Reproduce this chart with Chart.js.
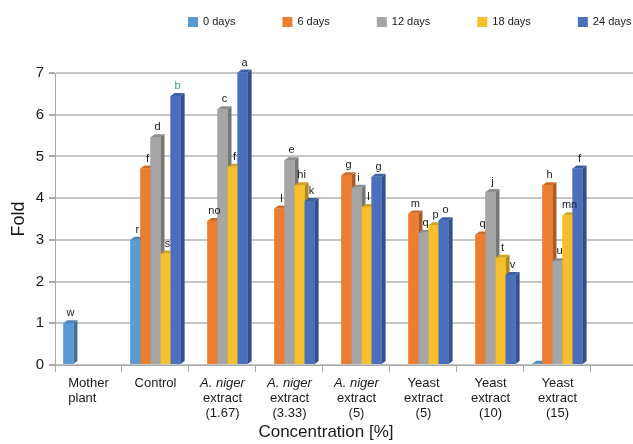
<!DOCTYPE html>
<html>
<head>
<meta charset="utf-8">
<style>
    html, body { margin: 0; padding: 0; background: #ffffff; }
    #wrap { position: relative; width: 633px; height: 444px; }
</style>
<script src="https://cdn.jsdelivr.net/npm/chart.js@4.4.1/dist/chart.umd.min.js"></script>
</head>
<body>
<div id="wrap"><canvas id="foldChart" width="633" height="444"></canvas></div>
<script>
// categories (one entry per group, lines of the axis label)
var categories = [
    ['Mother', 'plant'],
    ['Control'],
    ['A. niger', 'extract', '(1.67)'],
    ['A. niger', 'extract', '(3.33)'],
    ['A. niger', 'extract', '(5)'],
    ['Yeast', 'extract', '(5)'],
    ['Yeast', 'extract', '(10)'],
    ['Yeast', 'extract', '(15)']
];
var seriesNames = ['0 days', '6 days', '12 days', '18 days', '24 days'];

// fold values
var days0 = [1.0, 3.0, null, null, null, null, null, 0.03];
var days6 = [null, 4.71, 3.45, 3.75, 4.55, 3.63, 3.13, 4.31];
var days12 = [null, 5.46, 6.13, 4.91, 4.25, 3.17, 4.15, 2.49];
var days18 = [null, 2.67, 4.75, 4.31, 3.79, 3.35, 2.57, 3.59];
var days24 = [null, 6.45, 7.01, 3.93, 4.51, 3.47, 2.16, 4.71];

// significance letters above the bars
var letters0 = ['w', 'r', '', '', '', '', '', ''];
var letters6 = ['', 'f', 'no', 'l', 'g', 'm', 'q', 'h'];
var letters12 = ['', 'd', 'c', 'e', 'i', 'q', 'j', 'u'];
var letters18 = ['', 's', 'f', 'hi', 'l', 'p', 't', 'mn'];
var letters24 = ['', 'b', 'a', 'k', 'g', 'o', 'v', 'f'];

var yTicks = [0, 1, 2, 3, 4, 5, 6, 7];
var xTickEdges = [-0.5, 0.5, 1.5, 2.5, 3.5, 4.5, 5.5, 6.5, 7.5];

var seriesValues = [days0, days6, days12, days18, days24];
var seriesLetters = [letters0, letters6, letters12, letters18, letters24];
var seriesColors = ['#5b9bd5', '#ed7d31', '#a5a5a5', '#f5c02c', '#4a6fbd'];
var FONT = "'Liberation Sans', Arial, sans-serif";

function shade(hex, f) {
    var n = parseInt(hex.slice(1), 16);
    var r = Math.round(((n >> 16) & 255) * f);
    var g = Math.round(((n >> 8) & 255) * f);
    var b = Math.round((n & 255) * f);
    return 'rgb(' + r + ',' + g + ',' + b + ')';
}

var barDepth = {
    id: 'barDepth',
    afterDatasetsDraw: function (chart) {
        var ctx = chart.ctx;
        var dx = 4, dy = 3;
        ctx.save();
        for (var i = 0; i < categories.length; i++) {
            for (var d = 0; d < chart.data.datasets.length; d++) {
                var ds = chart.data.datasets[d];
                if (ds.data[i].y == null) continue;
                var p = chart.getDatasetMeta(d).data[i].getProps(['x', 'y', 'base', 'width'], true);
                var l = p.x - p.width / 2, r = p.x + p.width / 2;
                var t = Math.min(p.y, p.base), b = Math.max(p.y, p.base);
                ctx.fillStyle = shade(ds.backgroundColor, 0.72);
                ctx.beginPath();
                ctx.moveTo(r, t); ctx.lineTo(r + dx, t - dy); ctx.lineTo(r + dx, b - dy); ctx.lineTo(r, b);
                ctx.closePath(); ctx.fill();
                ctx.fillStyle = shade(ds.backgroundColor, 0.86);
                ctx.beginPath();
                ctx.moveTo(l, t); ctx.lineTo(l + dx, t - dy); ctx.lineTo(r + dx, t - dy); ctx.lineTo(r, t);
                ctx.closePath(); ctx.fill();
                ctx.fillStyle = ds.backgroundColor;
                ctx.fillRect(l, t, r - l, b - t);
            }
        }
        ctx.restore();
    }
};

var textLayer = {
    id: 'textLayer',
    afterDraw: function (chart) {
        var ctx = chart.ctx;
        var xs = chart.scales.x;
        var area = chart.chartArea;
        ctx.save();

        // letters over the bars
        ctx.font = '11px ' + FONT;
        ctx.textAlign = 'center';
        ctx.textBaseline = 'alphabetic';
        for (var d = 0; d < seriesLetters.length; d++) {
            var meta = chart.getDatasetMeta(d);
            for (var i = 0; i < categories.length; i++) {
                var txt = seriesLetters[d][i];
                if (!txt || seriesValues[d][i] == null) continue;
                var el = meta.data[i];
                ctx.fillStyle = (d === 4 && i === 1) ? '#3c9e8a' : '#1a1a1a';
                ctx.fillText(txt, el.x + 2, el.y - 7);
            }
        }

        // category labels
        ctx.fillStyle = '#1a1a1a';
        ctx.textBaseline = 'middle';
        for (var c = 0; c < categories.length; c++) {
            var cx = xs.getPixelForValue(c);
            var lines = categories[c];
            var left = null;
            if (c === 0) {
                ctx.font = '13px ' + FONT;
                var w = 0;
                lines.forEach(function (s) { w = Math.max(w, ctx.measureText(s).width); });
                left = cx - w / 2;
            }
            for (var k = 0; k < lines.length; k++) {
                ctx.font = (lines[k].indexOf('niger') >= 0 ? 'italic ' : '') + '13px ' + FONT;
                ctx.textAlign = left === null ? 'center' : 'left';
                ctx.fillText(lines[k], left === null ? cx : left, area.bottom + 18 + k * 15);
            }
        }

        // axis title
        ctx.font = '17px ' + FONT;
        ctx.textAlign = 'center';
        ctx.fillText('Concentration [%]', 326, 432);

        // legend
        ctx.font = '11px ' + FONT;
        ctx.textAlign = 'left';
        var lx = 188;
        chart.data.datasets.forEach(function (ds) {
            ctx.fillStyle = ds.backgroundColor;
            ctx.fillRect(lx, 17, 10, 10);
            ctx.fillStyle = '#1a1a1a';
            ctx.fillText(ds.label, lx + 15, 22);
            lx += 15 + ctx.measureText(ds.label).width + 47;
        });
        ctx.restore();
    }
};

var datasets = seriesNames.map(function (name, d) {
    return {
        label: name,
        data: seriesValues[d].map(function (v, i) { return { x: i, y: v }; }),
        backgroundColor: seriesColors[d],
        borderWidth: 0,
        clip: false
    };
});

new Chart(document.getElementById('foldChart'), {
    type: 'bar',
    data: { datasets: datasets },
    options: {
        responsive: false,
        animation: false,
        layout: { padding: { top: 73, right: 0, bottom: 0, left: 0 } },
        datasets: { bar: { categoryPercentage: 0.75, barPercentage: 1.0 } },
        plugins: { legend: { display: false }, tooltip: { enabled: false } },
        scales: {
            x: {
                type: 'linear',
                min: -0.5,
                max: 8.127,
                offset: false,
                grid: { offset: false, drawOnChartArea: false, drawTicks: true, tickLength: 7, color: '#a9a9a9' },
                border: { color: '#a9a9a9' },
                ticks: { display: false },
                afterBuildTicks: function (scale) {
                    scale.ticks = xTickEdges.map(function (v) { return { value: v }; });
                },
                afterFit: function (scale) { scale.height = 79; }
            },
            y: {
                min: 0,
                max: 7,
                afterBuildTicks: function (scale) {
                    scale.ticks = yTicks.map(function (v) { return { value: v }; });
                },
                ticks: { color: '#1a1a1a', padding: 5, font: { family: FONT, size: 15 } },
                grid: { color: '#c6c6c6', lineWidth: 2, tickLength: 6, tickColor: '#a9a9a9' },
                border: { color: '#a9a9a9' },
                title: { display: true, text: 'Fold', color: '#1a1a1a', font: { family: FONT, size: 18 }, padding: { top: 8, bottom: 0 } },
                afterFit: function (scale) { scale.width = 55; }
            }
        }
    },
    plugins: [barDepth, textLayer]
});
</script>
</body>
</html>
